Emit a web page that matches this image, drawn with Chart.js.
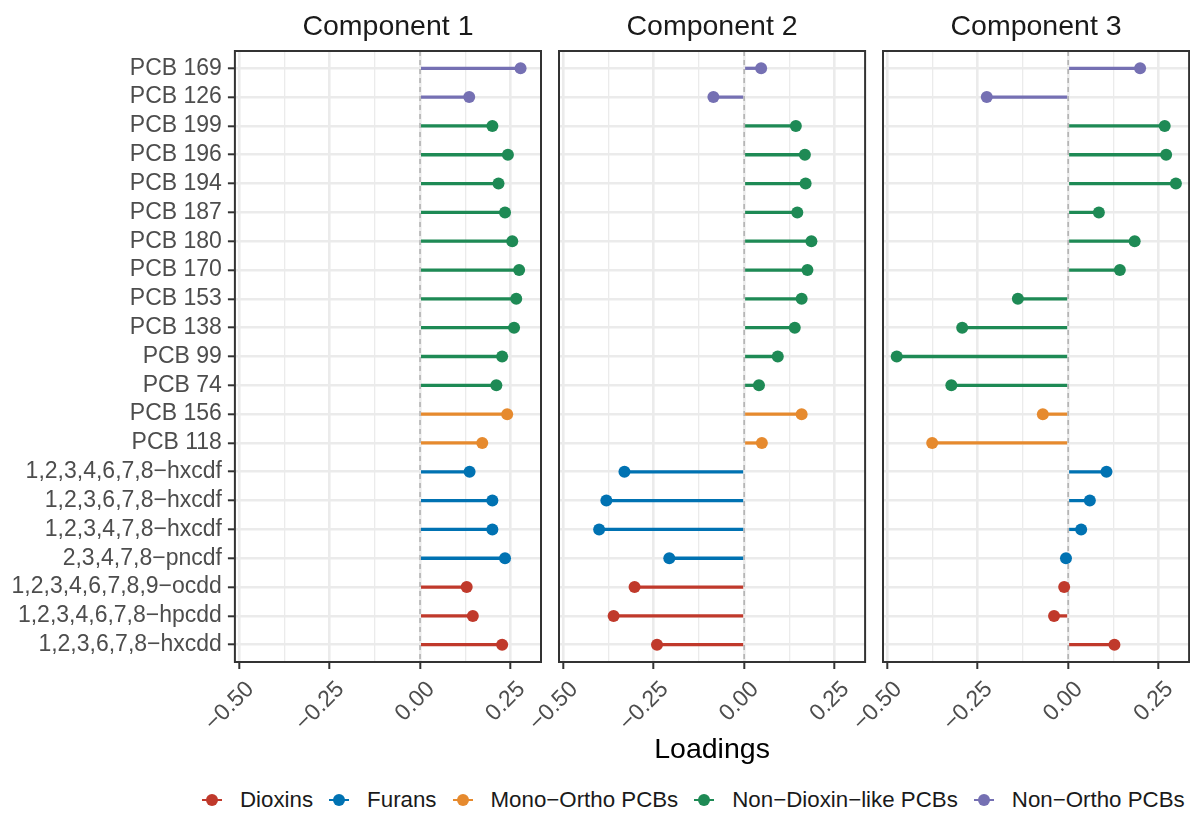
<!DOCTYPE html>
<html>
<head>
<meta charset="utf-8">
<title>Loadings by component</title>
<script src="https://cdn.jsdelivr.net/npm/chart.js@4.4.1/dist/chart.umd.min.js"></script>
<style>
  html, body { margin: 0; padding: 0; background: #fff; overflow: hidden; }
  #wrap { position: relative; width: 1190px; height: 813px; overflow: hidden; }
  .panel { position: absolute; top: 0; height: 780px; }
  #legend {
    position: absolute; top: 787px; left: 200px;
    display: flex; gap: 14px; white-space: nowrap;
    font: 22.3px 'Liberation Sans', Arial, sans-serif; color: #1a1a1a;
  }
  .item { display: flex; align-items: center; }
  .key { position: relative; width: 24px; height: 24px; }
  .seg { position: absolute; left: 2px; top: 10.75px; width: 20px; height: 2.5px; }
  .dot { position: absolute; left: 6px; top: 6px; width: 12px; height: 12px; border-radius: 50%; }
  .lab { margin-left: 16px; }
</style>
</head>
<body>
<div id="wrap">
  <div class="panel" id="p1"><canvas id="c1"></canvas></div>
  <div class="panel" id="p2"><canvas id="c2"></canvas></div>
  <div class="panel" id="p3"><canvas id="c3"></canvas></div>
  <div id="legend"></div>
</div>
<script>
// Congeners, top to bottom
const categories = [
  'PCB 169', 'PCB 126', 'PCB 199', 'PCB 196', 'PCB 194', 'PCB 187', 'PCB 180',
  'PCB 170', 'PCB 153', 'PCB 138', 'PCB 99', 'PCB 74', 'PCB 156', 'PCB 118',
  '1,2,3,4,6,7,8\u2212hxcdf', '1,2,3,6,7,8\u2212hxcdf', '1,2,3,4,7,8\u2212hxcdf',
  '2,3,4,7,8\u2212pncdf', '1,2,3,4,6,7,8,9\u2212ocdd', '1,2,3,4,6,7,8\u2212hpcdd',
  '1,2,3,6,7,8\u2212hxcdd'
];
const groupOf = [
  'Non\u2212Ortho PCBs', 'Non\u2212Ortho PCBs',
  'Non\u2212Dioxin\u2212like PCBs', 'Non\u2212Dioxin\u2212like PCBs', 'Non\u2212Dioxin\u2212like PCBs',
  'Non\u2212Dioxin\u2212like PCBs', 'Non\u2212Dioxin\u2212like PCBs', 'Non\u2212Dioxin\u2212like PCBs',
  'Non\u2212Dioxin\u2212like PCBs', 'Non\u2212Dioxin\u2212like PCBs', 'Non\u2212Dioxin\u2212like PCBs',
  'Non\u2212Dioxin\u2212like PCBs',
  'Mono\u2212Ortho PCBs', 'Mono\u2212Ortho PCBs',
  'Furans', 'Furans', 'Furans', 'Furans',
  'Dioxins', 'Dioxins', 'Dioxins'
];
const groups = ['Dioxins', 'Furans', 'Mono\u2212Ortho PCBs', 'Non\u2212Dioxin\u2212like PCBs', 'Non\u2212Ortho PCBs'];
const groupColors = ['#C0392B', '#0072B2', '#E68A2E', '#1E8A55', '#7570B3'];

const component1 = [0.278, 0.136, 0.200, 0.243, 0.217, 0.235, 0.255, 0.274, 0.266, 0.260,
  0.227, 0.211, 0.241, 0.172, 0.137, 0.200, 0.200, 0.235, 0.129, 0.146, 0.227];
const component2 = [0.047, -0.085, 0.143, 0.168, 0.170, 0.147, 0.186, 0.175, 0.159, 0.140,
  0.093, 0.041, 0.159, 0.049, -0.331, -0.381, -0.401, -0.207, -0.303, -0.361, -0.241];
const component3 = [0.199, -0.225, 0.267, 0.271, 0.298, 0.085, 0.184, 0.143, -0.139, -0.293,
  -0.474, -0.323, -0.070, -0.376, 0.106, 0.060, 0.036, -0.006, -0.011, -0.039, 0.128];

const panelTitles = ['Component 1', 'Component 2', 'Component 3'];
const xTicks = [-0.5, -0.375, -0.25, -0.125, 0, 0.125, 0.25];
const xMajor = [-0.5, -0.25, 0, 0.25];

const FONT = "'Liberation Sans', Arial, sans-serif";
const X_MIN = -0.512;
const X_MAX = 0.3345;
const PANEL_W = 308.1;
const PANEL_LEFT = [234.9, 558.7, 882.5];
const Y_AXIS_W = [234.9, 60, 60];
const CANVAS_H = 780;
const PLOT_BOTTOM = 662;

const isMajor = v => xMajor.some(m => Math.abs(m - v) < 1e-9);
const fmtTick = v => {
  if (!isMajor(v)) return '';
  const s = Math.abs(v).toFixed(2);
  return v < 0 ? '\u2212' + s : s;
};
const colorFor = i => groupColors[groups.indexOf(groupOf[i])];

// Panel frame drawn over the data, like ggplot's panel.border
const frame = {
  id: 'frame',
  afterDatasetsDraw(chart) {
    const { ctx, chartArea: a } = chart;
    ctx.save();
    ctx.strokeStyle = '#333333';
    ctx.lineWidth = 2;
    ctx.strokeRect(a.left, a.top, a.right - a.left, a.bottom - a.top);
    ctx.restore();
  }
};

// Dashed reference line at zero
const zeroLine = {
  id: 'zeroLine',
  beforeDatasetsDraw(chart) {
    const { ctx, chartArea: a } = chart;
    const x0 = chart.scales.x.getPixelForValue(0);
    ctx.save();
    ctx.strokeStyle = '#ABABAB';
    ctx.lineWidth = 1.4;
    ctx.setLineDash([5, 4]);
    ctx.beginPath();
    ctx.moveTo(x0, a.top);
    ctx.lineTo(x0, a.bottom);
    ctx.stroke();
    ctx.restore();
  }
};

function renderPanel(idx, values) {
  const holder = document.getElementById('p' + (idx + 1));
  const yW = Y_AXIS_W[idx];
  holder.style.left = (PANEL_LEFT[idx] - yW) + 'px';
  holder.style.width = (yW + PANEL_W + 4) + 'px';

  const points = values.map((v, i) => ({ x: v, y: i }));
  const colors = values.map((v, i) => colorFor(i));

  new Chart(document.getElementById('c' + (idx + 1)), {
    type: 'scatter',
    data: {
      datasets: [
        {
          type: 'scatter',
          data: points,
          pointRadius: 6,
          pointHoverRadius: 6,
          pointBorderWidth: 0,
          pointBackgroundColor: colors,
          order: 0
        },
        {
          type: 'bar',
          indexAxis: 'y',
          data: points,
          backgroundColor: colors,
          borderWidth: 0,
          barThickness: 2.6,
          grouped: false,
          order: 1
        }
      ]
    },
    options: {
      responsive: true,
      maintainAspectRatio: false,
      animation: false,
      layout: { padding: { left: 0, right: 4, top: 0, bottom: 0 } },
      plugins: {
        legend: { display: false },
        tooltip: { enabled: false },
        title: {
          display: true,
          text: panelTitles[idx],
          fullSize: false,
          color: '#1A1A1A',
          font: { family: FONT, size: 28.5, weight: 'normal', lineHeight: 1.2 },
          padding: { top: 10, bottom: 6.8 }
        }
      },
      scales: {
        x: {
          type: 'linear',
          min: X_MIN,
          max: X_MAX,
          offset: false,
          afterBuildTicks: s => { s.ticks = xTicks.map(v => ({ value: v })); },
          afterFit: s => { s.height = CANVAS_H - PLOT_BOTTOM; },
          ticks: {
            autoSkip: false,
            minRotation: 45,
            maxRotation: 45,
            padding: 7,
            labelOffset: 11,
            color: '#4D4D4D',
            font: { family: FONT, size: 23 },
            callback: v => fmtTick(v)
          },
          grid: {
            offset: false,
            color: '#EBEBEB',
            lineWidth: c => (c.tick && isMajor(c.tick.value)) ? 2.6 : 1.3,
            drawTicks: true,
            tickLength: 7,
            tickWidth: 2,
            tickColor: c => (c.tick && isMajor(c.tick.value)) ? '#333333' : 'rgba(0,0,0,0)'
          },
          border: { display: false },
          title: {
            display: idx === 1,
            text: 'Loadings',
            color: '#000000',
            font: { family: FONT, size: 28.5 },
            padding: { top: 0, bottom: 13 }
          }
        },
        y: {
          type: 'linear',
          reverse: true,
          min: -0.6,
          max: categories.length - 1 + 0.6,
          offset: false,
          afterBuildTicks: s => { s.ticks = categories.map((c, i) => ({ value: i })); },
          afterFit: s => { s.width = yW; },
          ticks: {
            display: idx === 0,
            autoSkip: false,
            padding: 6,
            color: '#4D4D4D',
            font: { family: FONT, size: 23 },
            callback: v => categories[v]
          },
          grid: {
            offset: false,
            color: '#EBEBEB',
            lineWidth: 2.6,
            drawTicks: idx === 0,
            tickLength: 7,
            tickWidth: 2,
            tickColor: '#333333'
          },
          border: { display: false }
        }
      }
    },
    plugins: [zeroLine, frame]
  });
}

renderPanel(0, component1);
renderPanel(1, component2);
renderPanel(2, component3);

// Legend below the panels
const legend = document.getElementById('legend');
groups.forEach((g, i) => {
  const item = document.createElement('span');
  item.className = 'item';
  item.innerHTML =
    '<span class="key"><i class="seg" style="background:' + groupColors[i] + '"></i>' +
    '<i class="dot" style="background:' + groupColors[i] + '"></i></span>' +
    '<span class="lab"></span>';
  item.querySelector('.lab').textContent = g;
  legend.appendChild(item);
});
</script>
</body>
</html>
